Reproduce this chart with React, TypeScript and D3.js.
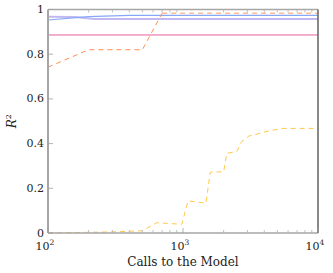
import React from "react";
import * as d3 from "d3";

const yTicks = [0, 0.2, 0.4, 0.6, 0.8, 1];
const yTickLabels = ["0", "0.2", "0.4", "0.6", "0.8", "1"];
const xMajor = [100, 1000, 10000];
const xMajorExp = ["2", "3", "4"];

const orangeX = [100, 200, 500, 700];
const orangeY = [0.742, 0.82, 0.82, 0.983];
const peachX = [700, 10000];
const peachY = [0.983, 0.983];
const blueX = [100, 200, 400, 10000];
const blueY = [0.953, 0.968, 0.974, 0.974];
const lavX = [100, 160, 220, 10000];
const lavY = [0.968, 0.966, 0.958, 0.958];
const pinkX = [100, 10000];
const pinkY = [0.886, 0.886];
const yellowX = [100, 200, 300, 500, 640, 980, 1090, 1480, 1590, 2000, 2110, 2500, 2720, 3080, 3550, 4410, 5530, 10000];
const yellowY = [0, 0.003, 0.005, 0.01, 0.046, 0.039, 0.144, 0.133, 0.272, 0.274, 0.357, 0.364, 0.409, 0.434, 0.443, 0.458, 0.468, 0.468];

const series = [
  { xs: pinkX, ys: pinkY, color: "#e8609e", dash: "", w: 1 },
  { xs: lavX, ys: lavY, color: "#c3b9f2", dash: "", w: 2 },
  { xs: blueX, ys: blueY, color: "#86a8f5", dash: "", w: 1.2 },
  { xs: peachX, ys: peachY, color: "#ffbc94", dash: "5,4", w: 1.5 },
  { xs: orangeX, ys: orangeY, color: "#ff8f55", dash: "5,4", w: 1 },
  { xs: yellowX, ys: yellowY, color: "#ffc84a", dash: "5,4", w: 1 },
];

export default function App() {
  const W = 333, H = 273;
  const L = 48, R = 318, T = 9.5, B = 233;
  const x = d3.scaleLog().domain([100, 10000]).range([L, R]);
  const y = d3.scaleLinear().domain([0, 1]).range([B, T]);
  const minor: number[] = [];
  [100, 1000].forEach((d) => { for (let k = 2; k <= 9; k++) minor.push(d * k); });
  const line = d3.line<[number, number]>().x((d) => x(d[0])).y((d) => y(d[1]));
  const font = "'DejaVu Serif', serif";
  return (
    <svg width={W} height={H} style={{ position: "absolute", left: 0, top: 0 }}>
      <rect x={0} y={0} width={W} height={H} fill="#fff" />
      {series.map((s, i) => (
        <path key={i} d={line(s.xs.map((v, j) => [v, s.ys[j]]) as [number, number][]) || ""}
          fill="none" stroke={s.color} strokeWidth={s.w} strokeDasharray={s.dash || undefined} />
      ))}
      {/* frame */}
      <line x1={L} x2={R} y1={B} y2={B} stroke="#a6a6a6" strokeWidth={1.5} />
      <line x1={L} x2={R} y1={T} y2={T} stroke="#a6a6a6" strokeWidth={1.5} />
      <line x1={L} x2={L} y1={T} y2={B} stroke="#a6a6a6" strokeWidth={2} />
      <line x1={R} x2={R} y1={T} y2={B} stroke="#606060" strokeWidth={1.5} />
      {minor.map((m, i) => (
        <g key={i}>
          <line x1={x(m)} x2={x(m)} y1={B} y2={B - 3} stroke="#b0b0b0" strokeWidth={0.8} />
          <line x1={x(m)} x2={x(m)} y1={T} y2={T + 3} stroke="#b0b0b0" strokeWidth={0.8} />
        </g>
      ))}
      {xMajor.map((m, i) => (
        <g key={i}>
          <line x1={x(m)} x2={x(m)} y1={B} y2={B - 5} stroke="#a0a0a0" strokeWidth={0.8} />
          <text x={x(m) - 3} y={B + 17} fontFamily={font} fontSize={11} textAnchor="middle" fill="#222">
            10<tspan fontSize={7.5} dy={-5}>{xMajorExp[i]}</tspan>
          </text>
        </g>
      ))}
      {yTicks.map((t, i) => (
        <g key={i}>
          <line x1={L} x2={L + 5} y1={y(t)} y2={y(t)} stroke="#a0a0a0" strokeWidth={0.8} />
          <text x={L - 4} y={y(t) + 3.5} fontFamily={font} fontSize={11} textAnchor="end" fill="#222">{yTickLabels[i]}</text>
        </g>
      ))}
      <text x={(L + R) / 2} y={266} fontFamily={font} fontSize={12} textAnchor="middle" fill="#222">Calls to the Model</text>
      <text transform={`translate(16,${(T + B) / 2}) rotate(-90)`} fontFamily={font} fontSize={12} textAnchor="middle" fill="#222" fontStyle="italic">
        R<tspan fontSize={8} dy={-5} fontStyle="normal">2</tspan>
      </text>
    </svg>
  );
}
